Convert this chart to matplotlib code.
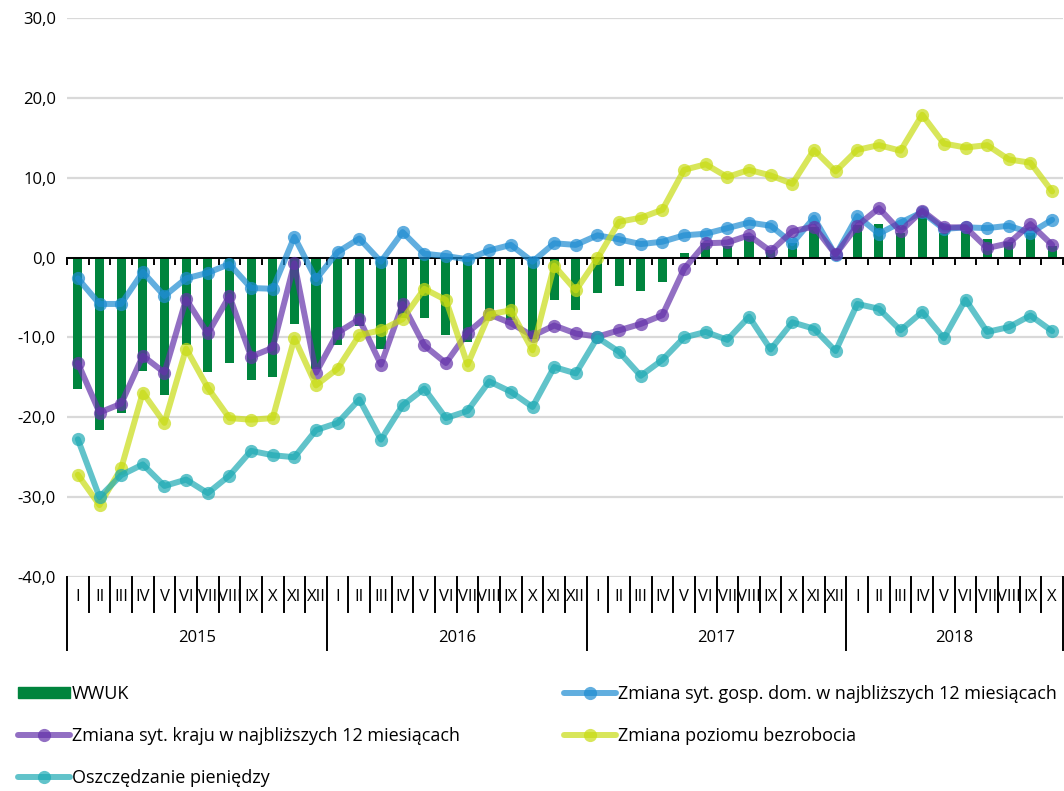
import matplotlib
matplotlib.use("Agg")
import matplotlib.pyplot as plt
from matplotlib.lines import Line2D
from matplotlib.patches import Patch
import numpy as np

plt.rcParams['font.family'] = ['Open Sans', 'DejaVu Sans']

years = ['2015', '2016', '2017', '2018']
months_per_year = [12, 12, 12, 10]
month_names = ['I', 'II', 'III', 'IV', 'V', 'VI', 'VII', 'VIII', 'IX', 'X', 'XI', 'XII']

wwuk = [-16.5, -21.6, -19.5, -14.2, -17.2, -11.0, -14.3, -13.2, -15.3, -15.0, -8.3, -14.0,
        -10.9, -8.5, -11.4, -7.5, -7.6, -9.7, -10.6, -7.0, -7.8, -10.2, -5.3, -6.6,
        -4.4, -3.6, -4.2, -3.1, 0.6, 1.8, 1.4, 2.7, 1.0, 1.8, 3.9, 0.2,
        4.1, 4.2, 3.1, 5.2, 3.1, 3.3, 2.4, 2.0, 3.1, 1.4]

gosp_dom = [-2.6, -5.8, -5.8, -1.8, -4.8, -2.6, -1.9, -0.8, -3.8, -3.9, 2.6, -2.7,
            0.7, 2.4, -0.5, 3.2, 0.5, 0.2, -0.2, 0.9, 1.6, -0.5, 1.8, 1.6,
            2.8, 2.3, 1.7, 2.0, 2.8, 3.0, 3.7, 4.4, 4.0, 1.8, 5.0, 0.3,
            5.2, 3.0, 4.4, 5.7, 3.6, 3.8, 3.7, 4.0, 3.1, 4.75]

kraj = [-13.2, -19.4, -18.3, -12.3, -14.4, -5.2, -9.5, -4.8, -12.4, -11.3, -0.7, -14.4,
        -9.4, -7.7, -13.4, -5.8, -11.0, -13.2, -9.4, -7.1, -8.2, -9.8, -8.5, -9.5,
        -9.9, -9.1, -8.3, -7.2, -1.4, 1.8, 1.9, 2.8, 0.8, 3.3, 3.9, 0.4,
        4.0, 6.2, 3.3, 5.9, 3.8, 3.8, 1.2, 1.8, 4.2, 1.6]

bezrobocie = [-27.2, -31.0, -26.4, -16.9, -20.7, -11.4, -16.3, -20.1, -20.3, -20.1, -10.1, -16.0,
              -13.9, -9.7, -9.1, -7.7, -3.9, -5.3, -13.4, -7.1, -6.6, -11.6, -1.0, -4.1,
              -0.1, 4.5, 5.0, 6.0, 11.0, 11.7, 10.1, 11.0, 10.3, 9.25, 13.5, 10.8,
              13.5, 14.1, 13.4, 17.9, 14.3, 13.8, 14.1, 12.3, 11.9, 8.3]

oszczedzanie = [-22.75, -30.0, -27.25, -25.9, -28.6, -27.8, -29.5, -27.3, -24.2, -24.75, -25.0, -21.6,
                -20.7, -17.75, -22.8, -18.5, -16.4, -20.1, -19.2, -15.5, -16.8, -18.7, -13.7, -14.5,
                -10.0, -11.8, -14.8, -12.8, -10.0, -9.3, -10.3, -7.4, -11.5, -8.1, -8.9, -11.7,
                -5.8, -6.4, -9.1, -6.8, -10.1, -5.25, -9.3, -8.7, -7.25, -9.2]

label_wwuk = 'WWUK'
label_gosp = 'Zmiana syt. gosp. dom. w najbliższych 12 miesiącach'
label_kraj = 'Zmiana syt. kraju w najbliższych 12 miesiącach'
label_bezr = 'Zmiana poziomu bezrobocia'
label_oszcz = 'Oszczędzanie pieniędzy'

c_green = '#00843d'
c_blue = '#1e8cd2'
c_purple = '#6432aa'
c_yellow = '#c8dc14'
c_teal = '#1eaab4'

n = len(wwuk)
x = np.arange(n)

fig = plt.figure(figsize=(10.64, 7.91), dpi=100)
ax = fig.add_axes([0.063, 0.2706, 0.936, 0.7064])

ax.set_xlim(-0.5, n - 0.5)
ax.set_ylim(-40, 30)
ax.set_yticks(np.arange(-40, 31, 10))
ax.set_yticklabels([f'{v:.1f}'.replace('.', ',') for v in np.arange(-40, 31, 10)], fontsize=12)
ax.tick_params(axis='y', length=0, pad=8)
ax.yaxis.grid(True, color='#d9d9d9', lw=1.6, zorder=0)
ax.set_axisbelow(True)

for s in ['left', 'right', 'top']:
    ax.spines[s].set_visible(False)
ax.spines['bottom'].set_position(('data', 0))
ax.spines['bottom'].set_color('black')
ax.spines['bottom'].set_linewidth(1.4)
ax.spines['bottom'].set_zorder(2.5)
ax.set_xticks(np.arange(-0.5, n, 1.0))
ax.tick_params(axis='x', direction='out', length=5, width=1.4, labelbottom=False)

ax.bar(x, wwuk, width=0.42, color=c_green, zorder=1)

series = [(gosp_dom, c_blue), (kraj, c_purple), (bezrobocie, c_yellow), (oszczedzanie, c_teal)]
for vals, col in series:
    ax.plot(x, vals, color=col, lw=4.3, alpha=0.7, zorder=3, solid_capstyle='round')
    ax.plot(x, vals, ls='none', marker='o', ms=9.5, color=col, alpha=0.7, mec='none', zorder=3)

# category axis below the plot: months and years with separators
tr = ax.get_xaxis_transform()
month_h = 35 / 559.0
year_h = 73 / 559.0
pos = 0
for yr, cnt in zip(years, months_per_year):
    ax.plot([pos - 0.5, pos - 0.5], [0, -year_h], transform=tr, color='black', lw=1.4, clip_on=False)
    for m in range(cnt):
        if m > 0:
            ax.plot([pos + m - 0.5, pos + m - 0.5], [0, -month_h], transform=tr,
                    color='black', lw=1.4, clip_on=False)
        ax.text(pos + m, -month_h / 2 - 0.004, month_names[m], transform=tr, ha='center', va='center',
                fontsize=12, clip_on=False)
    ax.text(pos + (cnt - 1) / 2, -0.1085, yr, transform=tr, ha='center', va='center',
            fontsize=12, clip_on=False)
    pos += cnt
ax.plot([pos - 0.5, pos - 0.5], [0, -year_h], transform=tr, color='black', lw=1.4, clip_on=False)

def line_handle(col, label):
    return Line2D([], [], color=col, lw=4.3, alpha=0.7, marker='o', ms=9.5,
                  mfc=col, mec='none', label=label, solid_capstyle='round')

handles = [
    Patch(color=c_green, label=label_wwuk),
    line_handle(c_purple, label_kraj),
    line_handle(c_teal, label_oszcz),
    line_handle(c_blue, label_gosp),
    line_handle(c_yellow, label_bezr),
]
for h in handles[1:]:
    h.set_markevery([1])
fig.legend(handles=handles, ncol=2, loc='lower left', bbox_to_anchor=(0.01, -0.004, 0.99, 0.15),
           mode='expand', frameon=False, fontsize=13, handlelength=2.9, handleheight=0.55,
           handletextpad=0.1, labelspacing=1.32, borderaxespad=0.0)

fig.savefig('out.png', dpi=100)
